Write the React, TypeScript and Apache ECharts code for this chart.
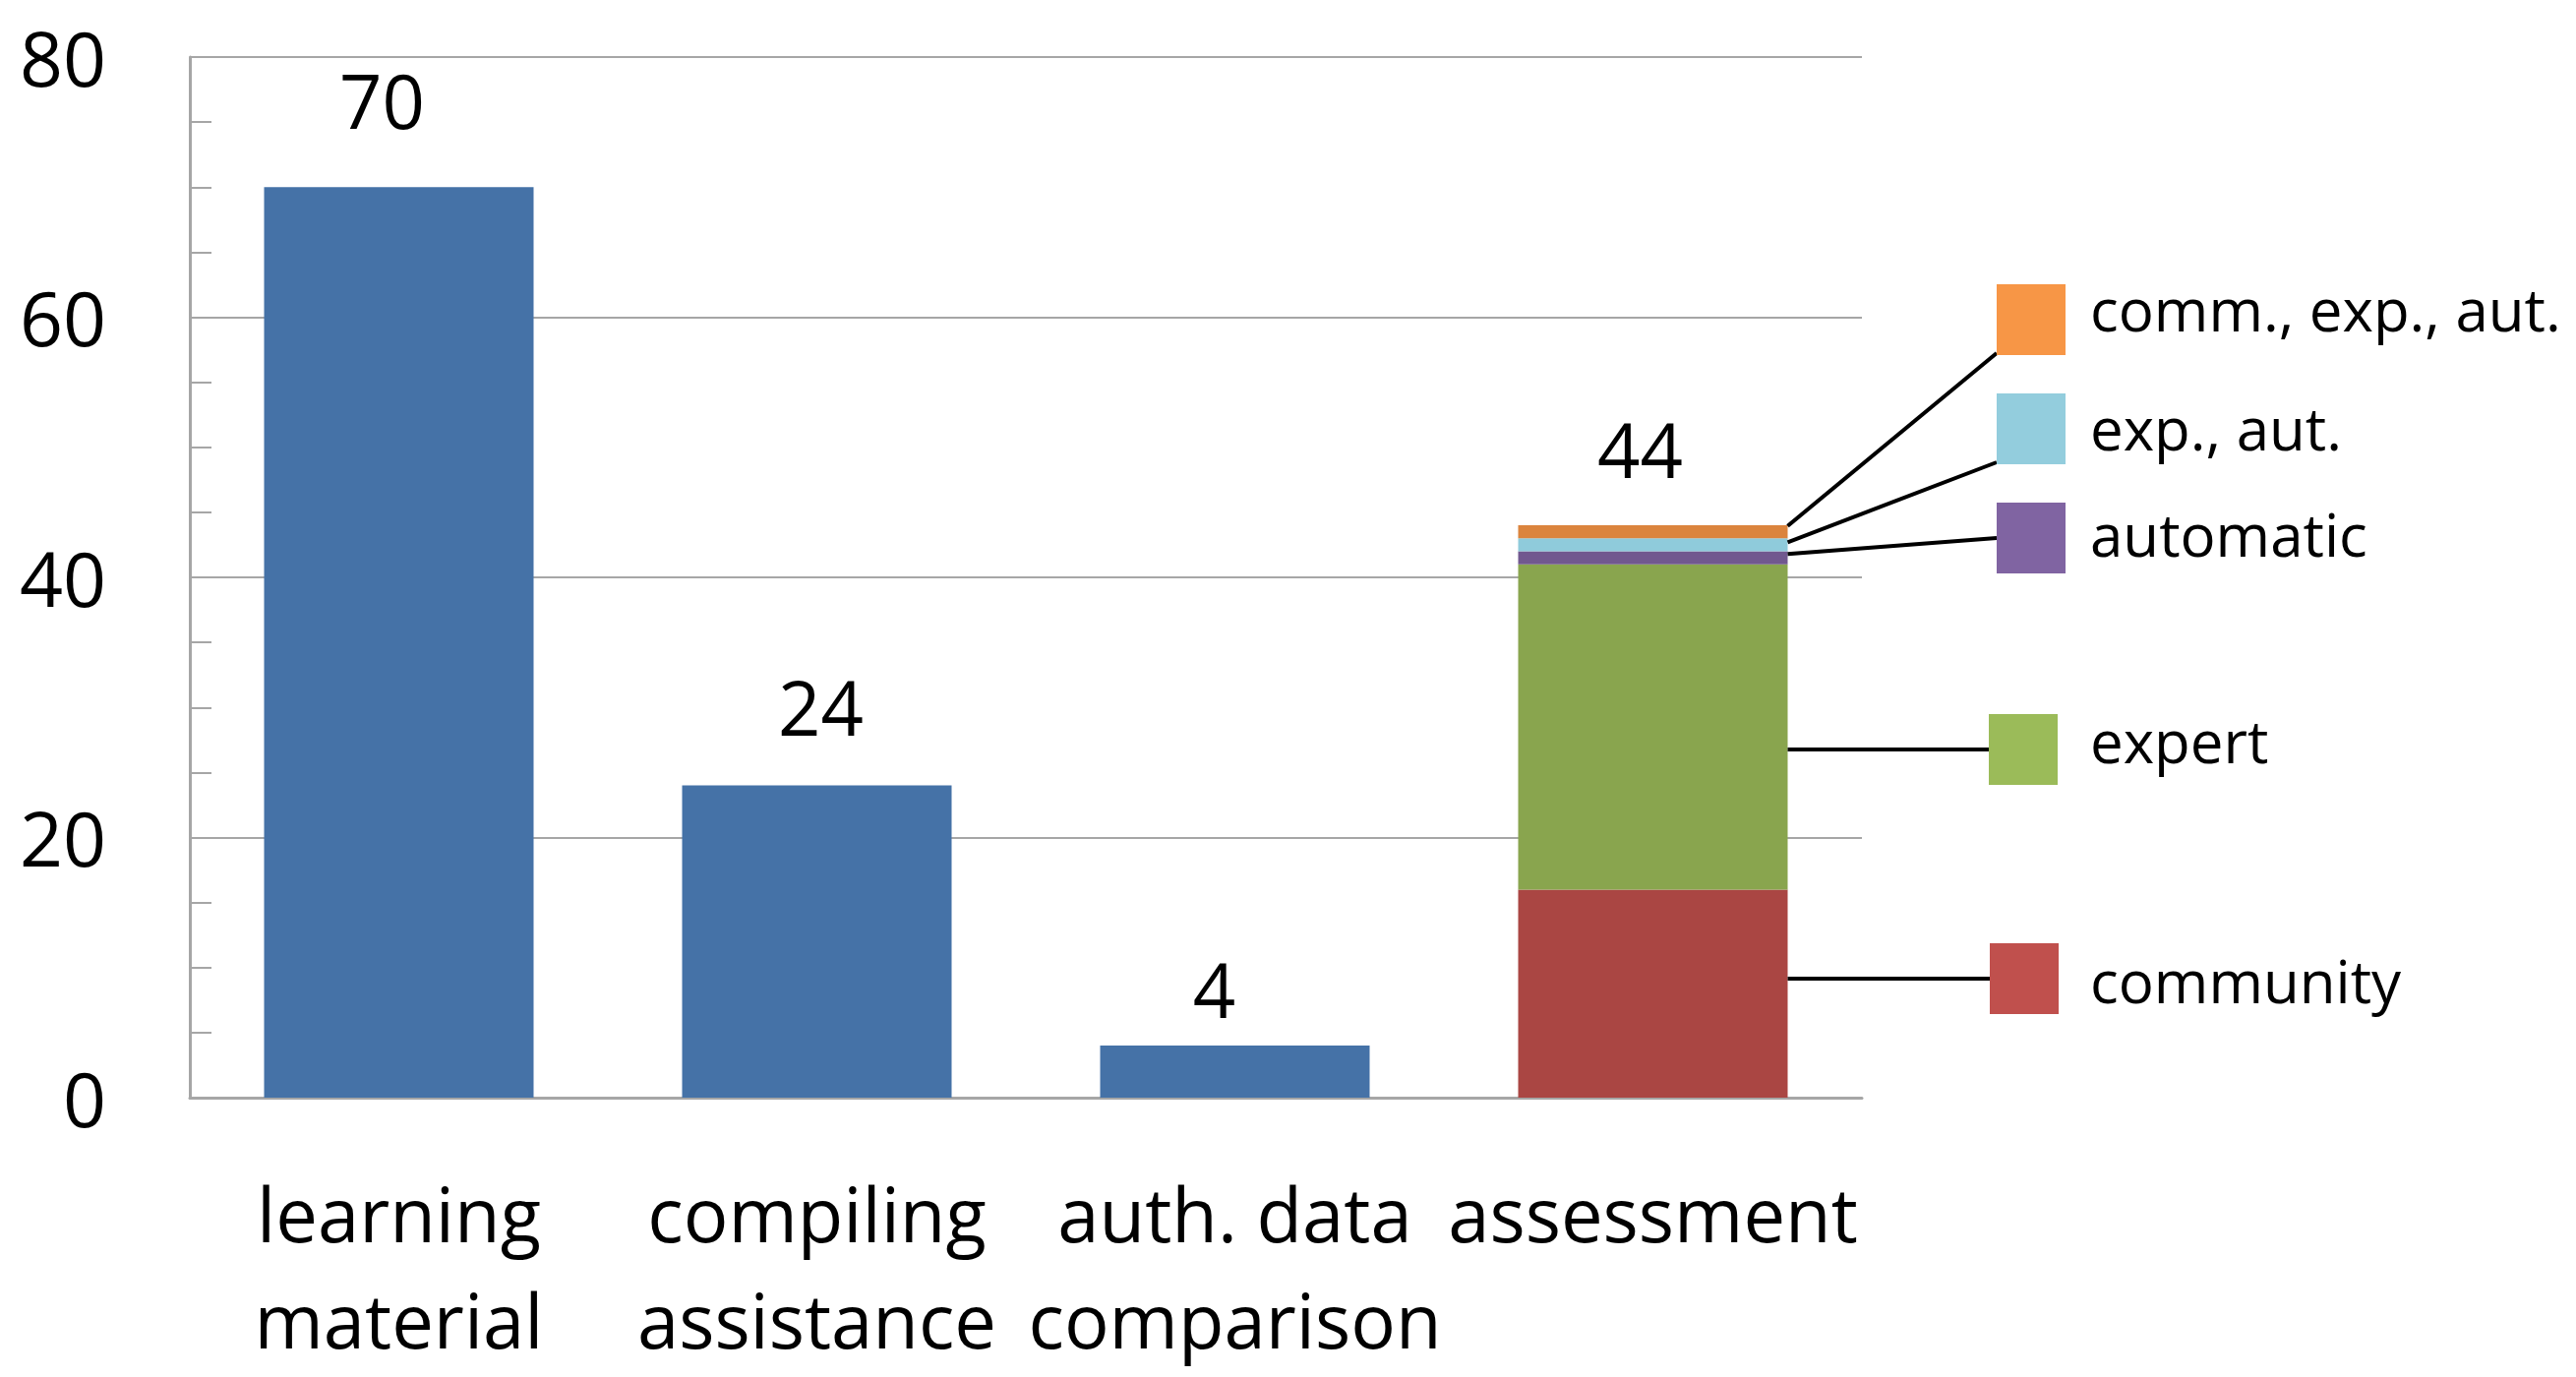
import React, { useEffect, useRef } from "react";
import * as echarts from "echarts";

// ---- data ----
const categories = ["learning\nmaterial", "compiling\nassistance", "auth. data\ncomparison", "assessment"];
const usageValues: (number | null)[] = [70, 24, 4, null];
const community: (number | null)[] = [null, null, null, 16];
const expert: (number | null)[] = [null, null, null, 25];
const automatic: (number | null)[] = [null, null, null, 1];
const expAut: (number | null)[] = [null, null, null, 1];
const commExpAut: (number | null)[] = [null, null, null, 1];
const yTicks = [0, 20, 40, 60, 80];

const segmentNames = ["community", "expert", "automatic", "exp., aut.", "comm., exp., aut."];
const segmentData = [community, expert, automatic, expAut, commExpAut];

// ---- styles ----
const usageColor = "#4572A7";
const barColors = ["#AA4643", "#89A54E", "#71588F", "#8FCBDB", "#DB843D"];
const legendColors = ["#C0504D", "#9BBB59", "#8064A2", "#93CDDD", "#F79646"];
const labelGap = [51, 42, 20, 40];
const labelShiftX = [-17, 4, -21, -13];
const legendBoxes = [
  { x: 2023, y: 959 },
  { x: 2022, y: 726 },
  { x: 2030, y: 511 },
  { x: 2030, y: 400 },
  { x: 2030, y: 289 },
];
const legendTextDy = [2, -9, -4, -1, -11];
const leaderAttach: (number | null)[] = [null, null, 0.8, 0.7, 0.95];
const leaderEnd = ["mid", "mid", "mid", "bottom", "bottom"];
const FONT = "'Open Sans', sans-serif";
const GRID_GRAY = "#A6A6A6";
const BAR_W = 274;

export default function App() {
  const ref = useRef<HTMLDivElement>(null);
  useEffect(() => {
    const chart = echarts.init(ref.current!, null, { renderer: "svg" });
    const totals = categories.map(
      (_, i) => (usageValues[i] ?? 0) + segmentData.reduce((s, arr) => s + (arr[i] ?? 0), 0)
    );
    const labelStyle = {
      show: true,
      position: "top",
      fontFamily: FONT,
      fontSize: 76,
      lineHeight: 76,
      color: "#000",
      formatter: (p: any) => String(totals[p.dataIndex]),
    };
    const itemLabel = (i: number) => ({ distance: labelGap[i], offset: [labelShiftX[i], 0] });
    const topSeg = segmentData.length - 1;
    const series: any[] = [
      {
        name: "usage",
        type: "bar",
        stack: "s",
        barWidth: BAR_W,
        itemStyle: { color: usageColor },
        label: labelStyle,
        data: usageValues.map((v, i) => (v == null ? "-" : { value: v, label: itemLabel(i) })),
      },
      ...segmentData.map((arr, k) => ({
        name: segmentNames[k],
        type: "bar",
        stack: "s",
        barWidth: BAR_W,
        itemStyle: { color: barColors[k] },
        label: k === topSeg ? labelStyle : { show: false },
        data: arr.map((v, i) =>
          v == null ? "-" : k === topSeg ? { value: v, label: itemLabel(i) } : v
        ),
      })),
    ];

    chart.setOption({
      animation: false,
      backgroundColor: "#fff",
      grid: { left: 193, top: 58, width: 1700, height: 1058, containLabel: false },
      xAxis: {
        type: "category",
        data: categories,
        axisLine: { show: true, lineStyle: { color: GRID_GRAY, width: 3 } },
        axisTick: { show: false },
        axisLabel: {
          fontFamily: FONT,
          fontSize: 76,
          lineHeight: 108,
          color: "#000",
          margin: 63,
          interval: 0,
        },
      },
      yAxis: {
        type: "value",
        min: yTicks[0],
        max: yTicks[yTicks.length - 1],
        interval: yTicks[1] - yTicks[0],
        axisLine: { show: true, lineStyle: { color: GRID_GRAY, width: 3 } },
        axisTick: { show: true, inside: true, length: 22, lineStyle: { color: GRID_GRAY, width: 2 } },
        minorTick: { show: true, splitNumber: 4, length: 22, lineStyle: { color: GRID_GRAY, width: 2 } },
        splitLine: { show: true, lineStyle: { color: GRID_GRAY, width: 2 } },
        axisLabel: { fontFamily: FONT, fontSize: 77, color: "#000", margin: 85 },
      },
      series,
    });

    // ---- leader-line legend ----
    const catIdx = categories.length - 1;
    const [cx] = chart.convertToPixel({ gridIndex: 0 }, [catIdx, 0]) as number[];
    const barRight = cx + BAR_W / 2;
    const graphics: any[] = [];
    let cum = usageValues[catIdx] ?? 0;
    segmentData.forEach((arr, k) => {
      const v = arr[catIdx] ?? 0;
      const box = legendBoxes[k];
      const bw = 70;
      const bh = 72;
      const boxMid = box.y + bh / 2;
      let sy: number;
      if (leaderAttach[k] == null) {
        sy = boxMid;
      } else {
        sy = (chart.convertToPixel({ gridIndex: 0 }, [catIdx, cum + v * (leaderAttach[k] as number)]) as number[])[1];
      }
      const ex = box.x;
      const ey = leaderEnd[k] === "bottom" ? box.y + bh - 2 : boxMid;
      graphics.push({
        type: "line",
        shape: { x1: barRight, y1: sy, x2: ex, y2: ey },
        style: { stroke: "#000", lineWidth: 4 },
        z: 10,
      });
      graphics.push({
        type: "rect",
        shape: { x: box.x, y: box.y, width: bw, height: bh },
        style: { fill: legendColors[k] },
        z: 10,
      });
      graphics.push({
        type: "text",
        x: 2125,
        y: boxMid + legendTextDy[k],
        style: {
          text: segmentNames[k],
          font: `60px ${FONT}`,
          fill: "#000",
          verticalAlign: "middle",
          align: "left",
        },
        z: 10,
      });
      cum += v;
    });
    chart.setOption({ graphic: graphics });

    return () => chart.dispose();
  }, []);

  return (
    <div
      ref={ref}
      style={{ position: "absolute", left: 0, top: 0, width: 2619, height: 1400 }}
    />
  );
}
